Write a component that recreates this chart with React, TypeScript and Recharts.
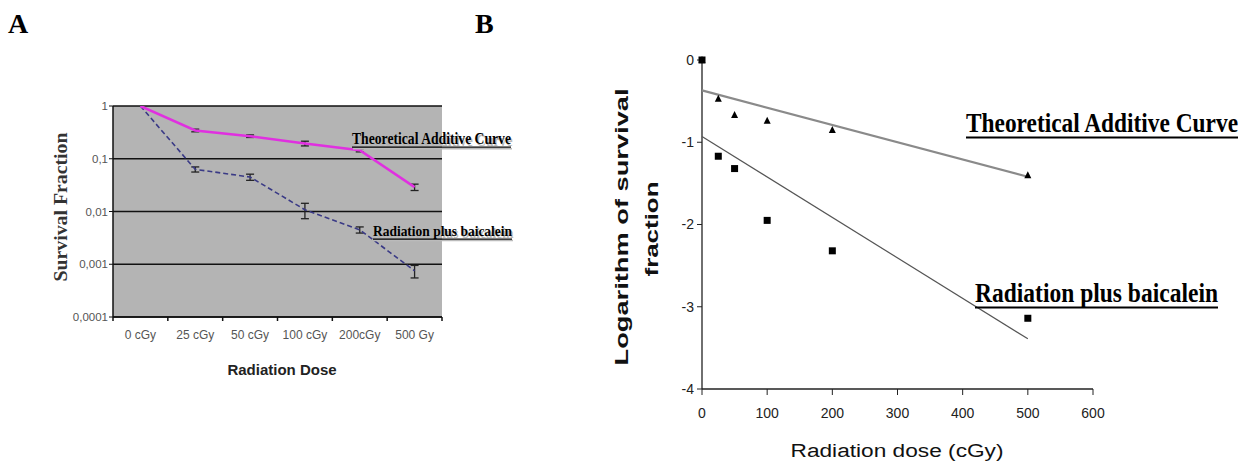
import React from 'react';
import {
  LineChart,
  Line,
  XAxis,
  YAxis,
  CartesianGrid,
  ErrorBar,
  ScatterChart,
  Scatter,
} from 'recharts';

// Panel A: survival fraction (log scale) per dose category
const doseLabels = ['0 cGy', '25 cGy', '50 cGy', '100 cGy', '200cGy', '500 Gy'];
const additiveFraction = [1, 0.344, 0.268, 0.195, 0.145, 0.029];
const additiveErr = [0, 0.02, 0.015, 0.02, 0.01, 0.004];
const baicaleinFraction = [1, 0.063, 0.045, 0.0108, 0.0045, 0.00075];
const baicaleinErr = [0, 0.007, 0.006, 0.0035, 0.0006, 0.0002];
const fractionTicks = [1, 0.1, 0.01, 0.001, 0.0001];

// Panel B: log of survival fraction vs dose, with fitted lines
const doses = [0, 25, 50, 100, 200, 500];
const additiveLog = [0, -0.47, -0.67, -0.74, -0.85, -1.4];
const baicaleinLog = [0, -1.17, -1.32, -1.95, -2.32, -3.14];
const fitDoses = [0, 500];
const additiveFit = [-0.37, -1.42];
const baicaleinFit = [-0.93, -3.39];
const doseTicks = [0, 100, 200, 300, 400, 500, 600];
const logTicks = [0, -1, -2, -3, -4];

const SERIF = '"Liberation Serif", "Times New Roman", serif';
const SANS = '"Liberation Sans", Arial, sans-serif';

const A_PLOT_W = 329;
const A_BAND = A_PLOT_W / doseLabels.length;

const dataA = doseLabels.map((label, i) => ({
  label,
  additive: additiveFraction[i],
  additiveErr: additiveErr[i],
  baicalein: baicaleinFraction[i],
  baicaleinErr: baicaleinErr[i],
}));

const additivePoints = doses.map((x, i) => ({ x, y: additiveLog[i] }));
const baicaleinPoints = doses.map((x, i) => ({ x, y: baicaleinLog[i] }));
const additiveFitPts = fitDoses.map((x, i) => ({ x, y: additiveFit[i] }));
const baicaleinFitPts = fitDoses.map((x, i) => ({ x, y: baicaleinFit[i] }));

function DoseTick({ x, y, payload, index }: any) {
  const left = x - A_BAND / 2;
  return (
    <g>
      <line x1={left} x2={left} y1={y} y2={y + 4} stroke="#111" strokeWidth={1.5} />
      {index === doseLabels.length - 1 && (
        <line x1={x + A_BAND / 2} x2={x + A_BAND / 2} y1={y} y2={y + 4} stroke="#111" strokeWidth={1.5} />
      )}
      <text x={x} y={y + 22} textAnchor="middle" fontSize={12} fill="#555" fontFamily={SANS}>
        {payload.value}
      </text>
    </g>
  );
}

function Square({ cx, cy }: any) {
  return <rect x={cx - 3.5} y={cy - 3.5} width={7} height={7} fill="#000" />;
}

function Triangle({ cx, cy }: any) {
  return <polygon points={`${cx},${cy - 4} ${cx - 3.5},${cy + 3} ${cx + 3.5},${cy + 3}`} fill="#000" />;
}

function Nothing() {
  return <g />;
}

// underlined bold serif label; sy stretches it vertically like the scanned figure
function Annotation({ x, y, w, size, sy = 1, text, shadow }: any) {
  const under = y + size * sy * 0.2;
  return (
    <g>
      {shadow && (
        <g transform={`translate(${x + 1.5} ${y + 1.5}) scale(1 ${sy})`}>
          <text x={0} y={0} fontFamily={SERIF} fontWeight="bold" fontSize={size}
            textLength={w} lengthAdjust="spacingAndGlyphs" fill="#bbb">
            {text}
          </text>
        </g>
      )}
      <g transform={`translate(${x} ${y}) scale(1 ${sy})`}>
        <text x={0} y={0} fontFamily={SERIF} fontWeight="bold" fontSize={size}
          textLength={w} lengthAdjust="spacingAndGlyphs" fill="#000">
          {text}
        </text>
      </g>
      {shadow && <line x1={x + 1} x2={x + w + 1} y1={under + 1.5} y2={under + 1.5} stroke="#bbb" strokeWidth={1.5} />}
      <line x1={x} x2={x + w} y1={under} y2={under} stroke="#000" strokeWidth={size > 20 ? 2 : 1.2} />
    </g>
  );
}

export default function App() {
  return (
    <div style={{ position: 'absolute', left: 0, top: 0, width: 1245, height: 463, background: '#fff', overflow: 'hidden' }}>
      <div style={{ position: 'absolute', left: 0, top: 0 }}>
        <LineChart width={600} height={463} data={dataA} margin={{ top: 106, right: 158, bottom: 116, left: 63 }}>
          <CartesianGrid vertical={false} fill="#b4b4b4" stroke="#111" strokeWidth={1.5} />
          <XAxis
            dataKey="label"
            scale="band"
            height={30}
            tickSize={0}
            tickMargin={0}
            tickLine={false}
            axisLine={{ stroke: '#111', strokeWidth: 1.5 }}
            tick={<DoseTick />}
            interval={0}
          />
          <YAxis
            type="number"
            scale="log"
            domain={[0.0001, 1]}
            ticks={fractionTicks}
            allowDataOverflow
            width={50}
            tickSize={4}
            tickMargin={1}
            tickLine={{ stroke: '#111' }}
            axisLine={{ stroke: '#111', strokeWidth: 1.5 }}
            tick={{ fontSize: 11.5, fill: '#555', fontFamily: SANS }}
            tickFormatter={(v: number) => String(v).replace('.', ',')}
          />
          <Line type="linear" dataKey="baicalein" stroke="#3a3a86" strokeWidth={1.6} strokeDasharray="5 3"
            dot={false} isAnimationActive={false}>
            <ErrorBar dataKey="baicaleinErr" direction="y" width={4} stroke="#222" strokeWidth={1.3} />
          </Line>
          <Line type="linear" dataKey="additive" stroke="#e030e0" strokeWidth={2.5}
            dot={false} isAnimationActive={false}>
            <ErrorBar dataKey="additiveErr" direction="y" width={4} stroke="#222" strokeWidth={1.3} />
          </Line>
        </LineChart>
      </div>

      <div style={{ position: 'absolute', left: 600, top: 0 }}>
        <ScatterChart width={645} height={463} margin={{ top: 60, right: 152, bottom: 44, left: 62 }}>
          <XAxis
            type="number"
            dataKey="x"
            domain={[0, 600]}
            ticks={doseTicks}
            height={30}
            tickSize={6}
            tickMargin={13}
            tickLine={{ stroke: '#222' }}
            axisLine={{ stroke: '#222', strokeWidth: 1.3 }}
            tick={{ fontSize: 14, fill: '#222', fontFamily: SANS }}
          />
          <YAxis
            type="number"
            dataKey="y"
            domain={[-4, 0]}
            ticks={logTicks}
            width={40}
            tickSize={5}
            tickMargin={3}
            tickLine={{ stroke: '#222' }}
            axisLine={{ stroke: '#222', strokeWidth: 1.3 }}
            tick={{ fontSize: 14, fill: '#222', fontFamily: SANS }}
          />
          <Scatter data={additiveFitPts} line={{ stroke: '#8a8a8a', strokeWidth: 2.2 }} shape={<Nothing />} isAnimationActive={false} />
          <Scatter data={baicaleinFitPts} line={{ stroke: '#555', strokeWidth: 1.2 }} shape={<Nothing />} isAnimationActive={false} />
          <Scatter data={additivePoints} shape={<Triangle />} isAnimationActive={false} />
          <Scatter data={baicaleinPoints} shape={<Square />} isAnimationActive={false} />
        </ScatterChart>
      </div>

      <svg width={1245} height={463} style={{ position: 'absolute', left: 0, top: 0, pointerEvents: 'none' }}>
        <text x={8} y={33} fontFamily={SERIF} fontWeight="bold" fontSize={28}>A</text>
        <text x={475} y={33} fontFamily={SERIF} fontWeight="bold" fontSize={28}>B</text>

        <text x={67} y={207} transform="rotate(-90 67 207)" textAnchor="middle" fontFamily={SERIF}
          fontWeight="bold" fontSize={19} textLength={149} lengthAdjust="spacingAndGlyphs" fill="#333">
          Survival Fraction
        </text>
        <text x={282} y={375} textAnchor="middle" fontFamily={SANS} fontWeight="bold" fontSize={15} fill="#222">
          Radiation Dose
        </text>
        <Annotation x={352} y={144} w={159} size={14} sy={1.15} text="Theoretical Additive Curve" shadow />
        <Annotation x={373} y={236} w={139} size={13.5} sy={1.15} text="Radiation plus baicalein" shadow />

        <text x={628} y={227} transform="rotate(-90 628 227)" textAnchor="middle" fontFamily={SANS}
          fontWeight="bold" fontSize={19} textLength={277} lengthAdjust="spacingAndGlyphs" fill="#111">
          Logarithm of survival
        </text>
        <text x={658} y={229} transform="rotate(-90 658 229)" textAnchor="middle" fontFamily={SANS}
          fontWeight="bold" fontSize={19} textLength={95} lengthAdjust="spacingAndGlyphs" fill="#111">
          fraction
        </text>
        <g transform="translate(897 457) scale(1 0.8)">
          <text x={0} y={0} textAnchor="middle" fontFamily={SANS} fontSize={22.5}
            textLength={213} lengthAdjust="spacingAndGlyphs" fill="#111">
            Radiation dose (cGy)
          </text>
        </g>
        <Annotation x={966} y={132} w={272} size={23.2} sy={1.2} text="Theoretical Additive Curve" />
        <Annotation x={975} y={302} w={243} size={23.5} sy={1.15} text="Radiation plus baicalein" />
      </svg>
    </div>
  );
}
